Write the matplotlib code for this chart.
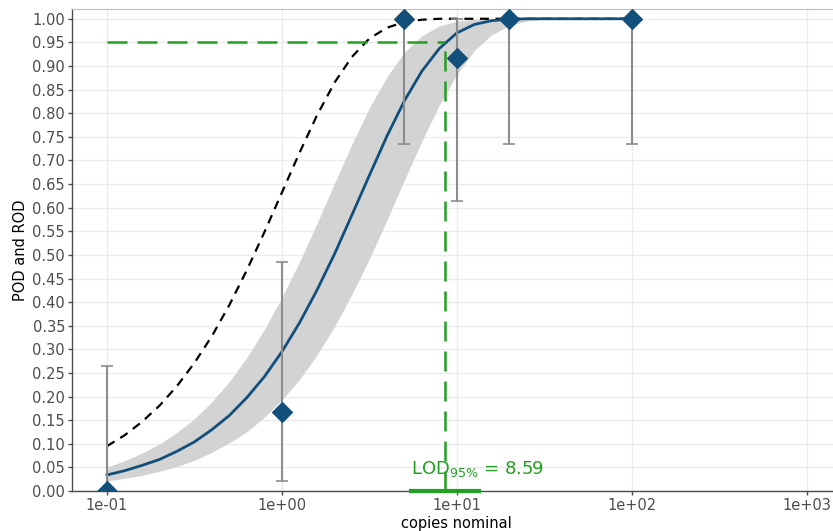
import matplotlib
matplotlib.use('Agg')
import matplotlib.pyplot as plt

# measured detection rates (POD) with confidence limits
copies = [0.1, 1, 5, 10, 20, 100]
pod = [0.0, 0.167, 1.0, 0.917, 1.0, 1.0]
ci_low = [0.0, 0.021, 0.735, 0.615, 0.735, 0.735]
ci_high = [0.265, 0.485, 1.0, 1.0, 1.0, 1.0]

# curves
curve_x = [0.1, 0.126, 0.158, 0.2, 0.251, 0.316, 0.398, 0.501, 0.631, 0.794,
           1.0, 1.26, 1.58, 2.0, 2.51, 3.16, 3.98, 5.01, 6.31, 7.94,
           10.0, 12.6, 15.8, 20.0, 25.0, 31.6, 100.0]
fit_pod = [0.034, 0.043, 0.054, 0.067, 0.084, 0.104, 0.130, 0.160, 0.198, 0.242,
           0.295, 0.356, 0.424, 0.502, 0.584, 0.668, 0.751, 0.826, 0.889, 0.937,
           0.970, 0.988, 0.996, 0.999, 1.0, 1.0, 1.0]
band_low = [0.021, 0.027, 0.033, 0.042, 0.052, 0.065, 0.082, 0.102, 0.126, 0.156,
            0.193, 0.236, 0.287, 0.348, 0.416, 0.491, 0.573, 0.658, 0.741, 0.817,
            0.882, 0.933, 0.966, 0.986, 0.995, 0.999, 1.0]
band_high = [0.051, 0.064, 0.080, 0.100, 0.124, 0.153, 0.189, 0.232, 0.283, 0.342,
             0.410, 0.485, 0.565, 0.652, 0.734, 0.811, 0.877, 0.929, 0.964, 0.985,
             0.995, 0.999, 1.0, 1.0, 1.0, 1.0, 1.0]
ideal_pod = [0.095, 0.118, 0.146, 0.181, 0.222, 0.271, 0.328, 0.394, 0.468, 0.548,
             0.632, 0.716, 0.794, 0.865, 0.919, 0.958, 0.981, 0.993, 0.998, 1.0,
             1.0, 1.0, 1.0, 1.0, 1.0, 1.0, 1.0]

lod95 = 8.59
lod_ci = [5.3, 13.7]

blue = '#124f7b'
green = '#22a022'
grey = '#8c8c8c'

fig = plt.figure(figsize=(8.33, 5.31), dpi=100)
ax = fig.add_axes([0.0864, 0.0753, 0.924, 0.908])

ax.fill_between(curve_x, band_low, band_high, color='#d3d3d3', lw=0, zorder=2)
ax.plot(curve_x, ideal_pod, color='black', ls=(0, (4, 3)), lw=1.6, zorder=3)
ax.plot(curve_x, fit_pod, color=blue, lw=2.0, zorder=4)

# LOD lines
ax.plot([copies[0], lod95], [0.95, 0.95], color=green, ls=(0, (8, 4)), lw=1.8, zorder=5)
ax.plot([lod95, lod95], [0, 0.95], color=green, ls=(0, (8, 4)), lw=1.8, zorder=5)
ax.plot(lod_ci, [0, 0], color=green, lw=3, zorder=6, clip_on=False, solid_capstyle='butt')
ax.text(5.5, 0.037, 'LOD$_{95\\%}$ = 8.59', color=green, fontsize=13, ha='left', va='baseline', zorder=7)

# error bars and points
yerr = [[p - l for p, l in zip(pod, ci_low)], [h - p for p, h in zip(pod, ci_high)]]
ax.errorbar(copies, pod, yerr=yerr, fmt='none', ecolor=grey, elinewidth=1.5, capsize=4, capthick=1.2, zorder=6)
ax.scatter(copies, pod, marker='D', s=100, color=blue, zorder=8)

ax.set_xscale('log')
ax.set_xlim(10 ** -1.2, 10 ** 3.2)
ax.set_ylim(0, 1.021)
ax.set_xticks([0.1, 1, 10, 100, 1000])
ax.set_xticklabels(['1e-01', '1e+00', '1e+01', '1e+02', '1e+03'])
ax.xaxis.set_minor_locator(matplotlib.ticker.NullLocator())
ax.set_yticks([i * 0.05 for i in range(21)])
ax.set_yticklabels(['%.2f' % (i * 0.05) for i in range(21)])

ax.grid(True, color='#ebebeb', lw=1.0, zorder=0)
ax.set_axisbelow(True)
ax.tick_params(labelsize=10.5, colors='#4d4d4d', length=3, width=1, pad=2)
for side in ['top', 'right']:
    ax.spines[side].set_color('#bdbdbd')
for side in ['left', 'bottom']:
    ax.spines[side].set_color('#4d4d4d')
    ax.spines[side].set_linewidth(1.0)

ax.set_xlabel('copies nominal', fontsize=10.5, labelpad=2)
ax.set_ylabel('POD and ROD', fontsize=10.5, labelpad=3)

fig.savefig('out.png', dpi=100)
